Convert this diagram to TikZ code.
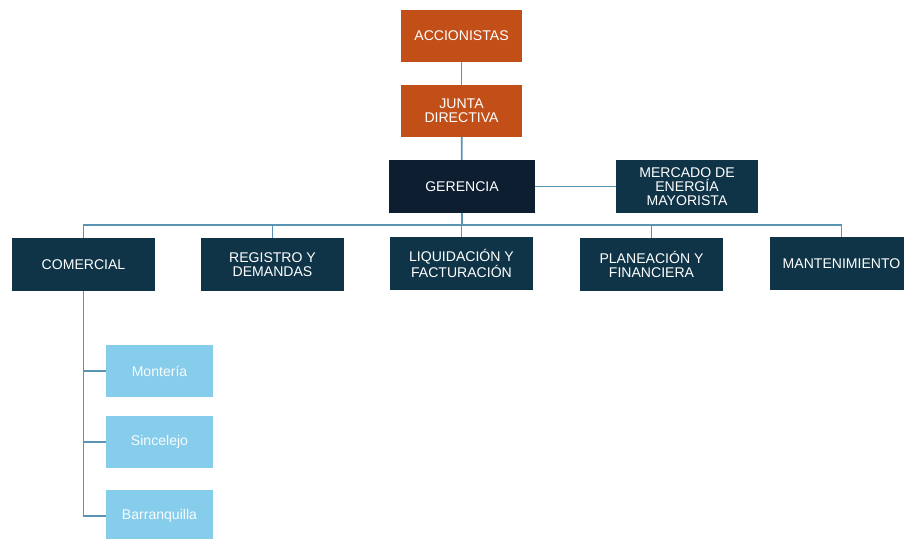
\documentclass[tikz,border=0pt]{standalone}
\usepackage{fontspec}
\setmainfont{Liberation Sans}
\usepackage{xcolor}
\usepackage{tikz}
\usetikzlibrary{positioning,calc}
\definecolor{ownerOrange}{HTML}{C24F17}
\definecolor{headNavy}{HTML}{0C1E30}
\definecolor{areaTeal}{HTML}{0F3347}
\definecolor{cityBlue}{HTML}{86CCEB}
\definecolor{linkBlue}{HTML}{5B93B3}

\begin{document}
\begin{tikzpicture}[
    x=0.03cm, y=-0.03cm,
    box/.style={rectangle, minimum width=4.29cm, minimum height=1.59cm, text=white, align=center, inner sep=1pt,
      font=\fontsize{12}{12}\selectfont, fill=areaTeal},
    top/.style={box, fill=ownerOrange, minimum width=3.63cm, minimum height=1.56cm},
    city/.style={box, fill=cityBlue, minimum width=3.21cm, minimum height=1.56cm, text=white!95!cityBlue},
    link/.style={draw=linkBlue, line width=1.5pt}
  ]
  \clip (0,0) rectangle (904,539);
  \useasboundingbox (0,0) rectangle (904,539);

  \node[top] (acc) at (461.5,36) {ACCIONISTAS};
  \node[top] (junta) at (461.5,111) {JUNTA\\DIRECTIVA};
  \node[box, fill=headNavy, minimum width=4.38cm] (ger) at (462,186.5) {GERENCIA};
  \node[box, minimum width=4.26cm] (merc) at (687,186.5) {MERCADO DE\\ENERGÍA\\MAYORISTA};

  \node[box] (com) at (83.5,264.5) {COMERCIAL};
  \node[box] (reg) at (272.5,264.5) {REGISTRO Y\\DEMANDAS};
  \node[box] (liq) at (461.5,263.5) {LIQUIDACIÓN Y\\FACTURACIÓN};
  \node[box] (plan) at (651.5,264.5) {PLANEACIÓN Y\\FINANCIERA};
  \node[box] (mant) at (841.5,263.5) {MANTENIMIENTO};

  \node[city] (mon) at (159.5,371) {Montería};
  \node[city] (sin) at (159.5,442) {Sincelejo};
  \node[city] (bar) at (159.5,516) {Barranquilla};

  \coordinate (bus) at (462,225);

  \draw[link] (acc) -- (junta);
  \draw[link] (junta) -- (ger);
  \draw[link] (ger) -- (merc);
  \draw[link] (ger) -- (ger |- bus);
  \draw[link] (com.north) |- (mant.north |- bus) -- (mant.north);
  \foreach \n in {reg,liq,plan}
    \draw[link] (\n.north) -- (\n.north |- bus);
  \draw[link] (com.south) |- (mon.west);
  \draw[link] (com.south) |- (sin.west);
  \draw[link] (com.south) |- (bar.west);
\end{tikzpicture}
\end{document}
